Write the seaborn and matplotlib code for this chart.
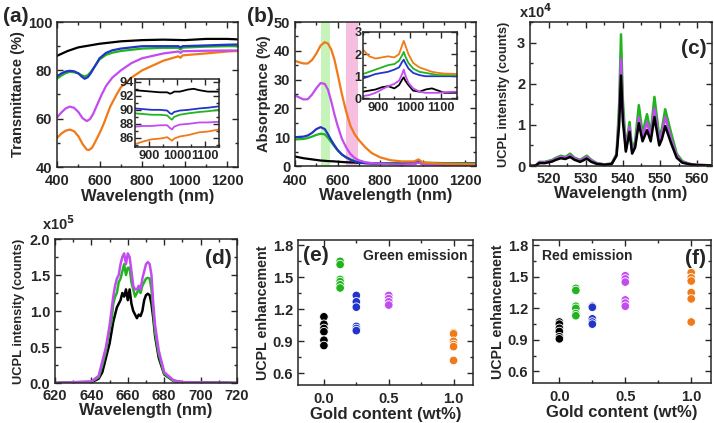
import numpy as np
import pandas as pd
import matplotlib as mpl
import matplotlib.pyplot as plt
from matplotlib.ticker import AutoMinorLocator, MultipleLocator, FormatStrFormatter
import seaborn as sns

sns.set_style("ticks")
mpl.rcParams['font.family'] = ['Liberation Sans', 'DejaVu Sans']
mpl.rcParams['font.weight'] = 'bold'
mpl.rcParams['axes.labelweight'] = 'bold'
mpl.rcParams['axes.linewidth'] = 1.1
mpl.rcParams['mathtext.default'] = 'bf'

colors = {"black": "#000000", "green": "#22b41e", "blue": "#2235c8",
          "magenta": "#c24cf0", "orange": "#f07a18"}

# ---- (a) transmittance ----
a_wl = {
    "black": [400, 450, 500, 600, 700, 800, 900, 1000, 1100, 1200, 1250],
    "blue": [400, 420, 440, 460, 480, 500, 515, 530, 545, 560, 580, 600, 630, 660, 700, 800, 900, 970, 980, 990,
             1100, 1200, 1250],
    "green": [400, 420, 440, 460, 480, 500, 515, 530, 545, 560, 580, 600, 630, 660, 700, 800, 900, 970, 980, 990,
              1100, 1200, 1250],
    "magenta": [400, 420, 440, 460, 480, 500, 520, 540, 555, 570, 590, 610, 630, 660, 700, 750, 800, 900, 970, 980,
                990, 1100, 1200, 1250],
    "orange": [400, 420, 440, 460, 480, 500, 520, 540, 550, 565, 580, 600, 620, 650, 680, 700, 750, 800, 900, 970,
               980, 990, 1100, 1200, 1250],
}
a_T = {
    "black": [86, 88, 89.5, 91, 92, 92.5, 92.7, 92.5, 93, 93, 92.8],
    "blue": [77.5, 78.7, 79.5, 79.8, 79.6, 78.8, 77.5, 76.5, 77.2, 79, 82, 85, 87.2, 88.3, 89, 90, 90, 90, 89.5,
             90, 90.3, 90.6, 90.7],
    "green": [76.5, 77.8, 78.8, 79.4, 79.2, 78.7, 78, 77.5, 78, 79.5, 82, 84.5, 86.4, 87.3, 88, 89, 89.3, 89.3,
              88.6, 89.4, 89.8, 90, 90],
    "magenta": [60.5, 62.5, 64.2, 65, 64.5, 62.8, 60.2, 59, 59.8, 62, 66, 70, 73.5, 77, 80, 83, 85, 87, 87.8,
                87.2, 87.9, 88.1, 88.2, 88.2],
    "orange": [52, 53.8, 55, 55.5, 54.8, 52.8, 49.5, 47.2, 47, 48, 50.5, 54, 58, 65, 70, 73, 77, 80, 84, 85.8,
               85.2, 86.2, 87, 87.8, 88],
}
ai_wl = [850, 880, 910, 940, 965, 975, 982, 990, 1010, 1040, 1060, 1080, 1110, 1150]
ai_T = {
    "black": [92.8, 92.7, 92.6, 92.5, 92.5, 92.3, 92.4, 92.6, 92.6, 92.9, 93.0, 92.8, 92.6, 92.6],
    "blue": [90.2, 90.1, 90.0, 90.0, 89.9, 89.5, 89.4, 89.7, 89.9, 90.0, 90.1, 90.2, 90.3, 90.5],
    "green": [89.5, 89.4, 89.3, 89.3, 89.2, 88.8, 88.6, 89.0, 89.3, 89.5, 89.6, 89.7, 89.8, 90.0],
    "magenta": [87.6, 87.7, 87.7, 87.8, 87.8, 87.4, 87.2, 87.6, 87.9, 88.0, 88.1, 88.2, 88.2, 88.3],
    "orange": [85.1, 85.5, 85.8, 85.9, 86.1, 85.8, 85.6, 85.9, 86.2, 86.4, 86.6, 86.8, 86.9, 87.2],
}

# ---- (b) absorptance ----
b_wl = [400, 420, 440, 460, 480, 500, 520, 540, 555, 570, 585, 600, 620, 640, 660, 680, 700, 730, 760, 800, 850,
        900, 960, 980, 1000, 1100, 1250]
b_A = {
    "black": [3.3, 3.0, 2.7, 2.5, 2.3, 2.1, 1.9, 1.8, 1.7, 1.65, 1.6, 1.5, 1.4, 1.3, 1.25, 1.2, 1.1, 1.0, 0.95,
              0.8, 0.7, 0.7, 0.8, 1.2, 0.8, 0.6, 0.5],
    "green": [9.2, 9.3, 9.4, 9.7, 10.2, 10.8, 11.2, 11, 9.8, 8.3, 6.8, 5.4, 4.0, 3.0, 2.3, 1.7, 1.3, 1.1, 1.0,
              1.0, 1.0, 1.0, 1.2, 1.8, 1.2, 1.0, 1.0],
    "blue": [10, 10.1, 10.2, 10.6, 11.5, 12.8, 13.5, 12.8, 11, 9, 7.2, 5.6, 4.0, 3.0, 2.2, 1.6, 1.2, 1.0, 0.9,
             0.8, 0.8, 0.8, 1.0, 1.6, 1.0, 0.8, 0.8],
    "magenta": [24.5, 23.8, 23.1, 23.2, 24.8, 27, 28.8, 28.5, 26.5, 22.5, 18, 14, 9.5, 6.5, 4.2, 2.8, 2.0, 1.3,
                1.0, 0.8, 0.6, 0.5, 0.7, 1.2, 0.6, 0.4, 0.4],
    "orange": [36.5, 36, 35.6, 35.6, 36.8, 39, 41.8, 43, 42.5, 40.5, 37, 32, 25, 19, 14, 11, 9, 6.5, 4.5, 3, 2,
               1.6, 1.6, 2.3, 1.2, 0.8, 0.6],
}
bi_wl = [850, 870, 890, 910, 930, 950, 965, 975, 980, 985, 995, 1010, 1030, 1050, 1070, 1090, 1110, 1150]
bi_A = {
    "orange": [2.2, 1.9, 1.8, 1.85, 1.9, 1.85, 2.0, 2.4, 2.6, 2.4, 2.0, 1.6, 1.4, 1.3, 1.2, 1.15, 1.12, 1.1],
    "green": [1.1, 1.2, 1.3, 1.4, 1.5, 1.55, 1.7, 1.95, 2.1, 1.9, 1.6, 1.35, 1.2, 1.15, 1.1, 1.05, 1.05, 1.05],
    "blue": [0.9, 1.0, 1.1, 1.15, 1.2, 1.3, 1.4, 1.65, 1.75, 1.6, 1.35, 1.15, 1.05, 1.0, 1.0, 1.0, 1.0, 1.0],
    "magenta": [0.1, 0.15, 0.25, 0.4, 0.55, 0.65, 0.8, 1.1, 1.3, 1.05, 0.7, 0.45, 0.3, 0.25, 0.25, 0.25, 0.28, 0.3],
    "black": [0.3, 0.35, 0.4, 0.5, 0.55, 0.45, 0.6, 0.85, 0.95, 0.8, 0.6, 0.35, 0.3, 0.4, 0.45, 0.35, 0.25, 0.25],
}

# ---- (c) green UCPL (x1e4) ----
c_wl = [515, 516.5, 517.5, 519, 521, 522, 523.3, 524.5, 525.8, 527, 528.5, 530.3, 531.5, 533, 535, 537, 538.3, 539,
        539.5, 540, 540.8, 541.8, 542.5, 543.3, 544.3, 545.3, 546.5, 547.5, 548.5, 549.8, 550.5, 551.4, 553, 554.5,
        556, 558, 560, 565]
c_I = {
    "green": [0, 0.01, 0.1, 0.1, 0.15, 0.2, 0.25, 0.22, 0.3, 0.2, 0.15, 0.25, 0.15, 0.07, 0.04, 0.06, 0.3, 1.5,
              3.2, 1.6, 0.45, 1.07, 0.4, 0.6, 1.48, 0.8, 1.26, 0.8, 1.68, 0.71, 0.9, 1.38, 0.8, 0.3,
              0.12, 0.05, 0.03, 0.01],
    "magenta": [0, 0.01, 0.09, 0.09, 0.13, 0.18, 0.22, 0.2, 0.26, 0.18, 0.13, 0.22, 0.13, 0.06, 0.04, 0.05, 0.27, 1.2,
                2.6, 1.3, 0.4, 0.95, 0.35, 0.5, 1.19, 0.7, 1.07, 0.7, 1.4, 0.6, 0.78, 1.19, 0.65, 0.25,
                0.1, 0.05, 0.03, 0.01],
    "black": [0, 0.01, 0.07, 0.07, 0.11, 0.15, 0.19, 0.17, 0.22, 0.15, 0.1, 0.18, 0.1, 0.05, 0.03, 0.05, 0.25, 1.0,
              2.2, 1.1, 0.35, 0.83, 0.3, 0.45, 1.04, 0.6, 0.87, 0.6, 1.19, 0.5, 0.65, 0.97, 0.55, 0.2,
              0.08, 0.04, 0.02, 0.01],
}

# ---- (d) red UCPL (x1e5) ----
d_wl = [620, 640, 644, 646, 648, 650, 651, 652, 653, 654, 655, 656, 657, 658, 659, 660, 661, 662, 663, 664, 665,
        666, 667, 668, 669, 670, 671, 672, 673, 674, 675, 677, 680, 685, 690, 720]
d_I = {
    "black": [0, 0.01, 0.06, 0.15, 0.35, 0.55, 0.7, 0.85, 0.95, 1.05, 1.1, 1.15, 1.25, 1.2, 1.3, 1.15, 1.3, 1.1, 1.0,
              0.95, 0.9, 0.95, 0.93, 1.0, 1.15, 1.22, 1.24, 1.22, 1.1, 0.9, 0.65, 0.35, 0.12, 0.03, 0.01, 0],
    "green": [0, 0.02, 0.08, 0.25, 0.45, 0.75, 0.85, 1.1, 1.2, 1.25, 1.4, 1.45, 1.55, 1.65, 1.5, 1.6, 1.6, 1.4, 1.3,
              1.2, 1.25, 1.3, 1.25, 1.35, 1.4, 1.45, 1.46, 1.45, 1.3, 1.0, 0.7, 0.4, 0.13, 0.03, 0.01, 0],
    "magenta": [0, 0.02, 0.1, 0.3, 0.5, 0.8, 1.0, 1.2, 1.35, 1.45, 1.5, 1.65, 1.75, 1.8, 1.65, 1.8, 1.75, 1.55, 1.35,
                1.3, 1.3, 1.35, 1.3, 1.45, 1.55, 1.65, 1.68, 1.65, 1.5, 1.1, 0.8, 0.45, 0.15, 0.04, 0.01, 0],
}

# ---- (e), (f) enhancement ----
e_gold = [0.0] * 6 + [0.125] * 6 + [0.25] * 6 + [0.5] * 4 + [1.0] * 6
e_sample = ["black"] * 6 + ["green"] * 6 + ["blue"] * 6 + ["magenta"] * 4 + ["orange"] * 6
e_enh = [1.13, 1.06, 1.02, 0.99, 0.91, 0.86,
         1.65, 1.62, 1.48, 1.46, 1.43, 1.40,
         1.33, 1.27, 1.22, 1.04, 1.02, 1.00,
         1.33, 1.30, 1.27, 1.24,
         0.98, 0.97, 0.90, 0.87, 0.85, 0.72]
f_gold = [0.0] * 6 + [0.125] * 6 + [0.25] * 5 + [0.5] * 6 + [1.0] * 6
f_sample = ["black"] * 6 + ["green"] * 6 + ["blue"] * 5 + ["magenta"] * 6 + ["orange"] * 6
f_enh = [1.07, 1.05, 1.01, 0.98, 0.93, 0.91,
         1.39, 1.37, 1.22, 1.20, 1.15, 1.13,
         1.22, 1.21, 1.10, 1.07, 1.05,
         1.51, 1.48, 1.45, 1.28, 1.25, 1.22,
         1.54, 1.49, 1.46, 1.35, 1.29, 1.07]


def style(ax, fs=10.5, xpad=5):
    ax.tick_params(which='both', direction='in', top=True, right=True, labelsize=fs, width=1.0)
    ax.tick_params(which='major', length=4)
    ax.tick_params(which='minor', length=2)
    ax.tick_params(axis='x', pad=xpad)
    ax.xaxis.set_minor_locator(AutoMinorLocator(2))
    ax.yaxis.set_minor_locator(AutoMinorLocator(2))
    for lab in ax.get_xticklabels() + ax.get_yticklabels():
        lab.set_fontweight('bold')


def lines(ax, wl, vals, order, lw=1.6):
    for name in order:
        x = wl[name] if isinstance(wl, dict) else wl
        sns.lineplot(x=x, y=vals[name], color=colors[name], lw=lw, ax=ax, estimator=None)


fig = plt.figure(figsize=(7.14, 4.23), dpi=100)
W, H = 714, 423


def add_ax(l, r, t, b):
    return fig.add_axes([l / W, 1 - b / H, (r - l) / W, (b - t) / H])


xl_fs = 12
yl_fs = 10.5

# (a)
ax = add_ax(57, 238, 22, 167)
lines(ax, a_wl, a_T, ["orange", "magenta", "green", "blue", "black"])
ax.set_xlim(400, 1250)
ax.set_ylim(40, 100)
ax.xaxis.set_major_locator(MultipleLocator(200))
ax.yaxis.set_major_locator(MultipleLocator(20))
ax.set_xlabel("Wavelength (nm)", fontsize=xl_fs, labelpad=1)
ax.set_ylabel("Transmittance (%)", fontsize=yl_fs, labelpad=2)
style(ax)
fig.text(3 / W, 1 - 22 / H, "(a)", fontsize=15, fontweight='bold')

ax = add_ax(135, 219, 79, 147)
lines(ax, ai_wl, ai_T, ["orange", "magenta", "green", "blue", "black"], lw=1.3)
ax.set_xlim(850, 1150)
ax.set_ylim(84.7, 94.4)
ax.xaxis.set_major_locator(MultipleLocator(100))
ax.yaxis.set_major_locator(MultipleLocator(2))
ax.set_xlabel("")
ax.set_ylabel("")
style(ax, fs=9.2, xpad=2)
ax.tick_params(axis='y', pad=1)

# (b)
ax = add_ax(295, 476, 22, 166)
ax.axvspan(520, 565, color="#b8f0a8", alpha=0.8, lw=0)
ax.axvspan(640, 695, color="#f5b0d8", alpha=0.8, lw=0)
lines(ax, b_wl, b_A, ["black", "green", "blue", "magenta", "orange"])
ax.set_xlim(400, 1250)
ax.set_ylim(0, 50)
ax.xaxis.set_major_locator(MultipleLocator(200))
ax.yaxis.set_major_locator(MultipleLocator(10))
ax.set_xlabel("Wavelength (nm)", fontsize=xl_fs, labelpad=0)
ax.set_ylabel("Absorptance (%)", fontsize=yl_fs, labelpad=2)
style(ax, xpad=6)
fig.text(247 / W, 1 - 22 / H, "(b)", fontsize=15, fontweight='bold')

ax = add_ax(363, 457, 32, 99)
lines(ax, bi_wl, bi_A, ["black", "magenta", "blue", "green", "orange"], lw=1.3)
ax.set_xlim(850, 1150)
ax.set_ylim(-0.03, 3)
ax.xaxis.set_major_locator(MultipleLocator(100))
ax.yaxis.set_major_locator(MultipleLocator(1))
ax.set_xlabel("")
ax.set_ylabel("")
style(ax, fs=9.2, xpad=2)
ax.tick_params(axis='y', pad=1)

# (c)
ax = add_ax(530, 712, 22, 166)
lines(ax, c_wl, c_I, ["green", "magenta", "black"], lw=1.8)
ax.set_xlim(515, 564)
ax.set_ylim(0, 3.5)
ax.xaxis.set_major_locator(MultipleLocator(10))
ax.yaxis.set_major_locator(MultipleLocator(1))
ax.set_xlabel("Wavelength (nm)", fontsize=xl_fs, labelpad=0)
ax.set_ylabel("UCPL intensity (counts)", fontsize=9.3, labelpad=5)
style(ax, xpad=4)
ax.text(-0.06, 1.03, r"x10$^{4}$", transform=ax.transAxes, fontsize=10.5, fontweight='bold')
ax.text(0.97, 0.88, "(c)", transform=ax.transAxes, fontsize=15, fontweight='bold', ha='right', va='top')

# (d)
ax = add_ax(55, 237, 239, 383)
lines(ax, d_wl, d_I, ["black", "green", "magenta"], lw=1.8)
ax.set_xlim(620, 720)
ax.set_ylim(0, 2)
ax.xaxis.set_major_locator(MultipleLocator(20))
ax.yaxis.set_major_locator(MultipleLocator(0.5))
ax.yaxis.set_major_formatter(FormatStrFormatter('%.1f'))
ax.set_xlabel("Wavelength (nm)", fontsize=xl_fs, labelpad=0)
ax.set_ylabel("UCPL intensity (counts)", fontsize=9.3, labelpad=3)
style(ax, xpad=4)
ax.text(-0.07, 1.06, r"x10$^{5}$", transform=ax.transAxes, fontsize=10.5, fontweight='bold')
ax.text(0.97, 0.93, "(d)", transform=ax.transAxes, fontsize=15, fontweight='bold', ha='right', va='top')

# (e), (f)
for l, r, t, b, gold, samp, enh, title, tag in [
        (298, 473, 240, 385, e_gold, e_sample, e_enh, "Green emission", "(e)"),
        (533, 711, 240, 383, f_gold, f_sample, f_enh, "Red emission", "(f)")]:
    ax = add_ax(l, r, t, b)
    df = pd.DataFrame({"gold": gold, "sample": samp, "enh": enh})
    sns.scatterplot(data=df, x="gold", y="enh", hue="sample", palette=colors, s=38,
                    edgecolor="white", linewidth=0.6, legend=False, ax=ax)
    ax.set_xlim(-0.2, 1.15)
    ax.set_ylim(0.49, 1.85)
    ax.xaxis.set_major_locator(MultipleLocator(0.5))
    ax.yaxis.set_major_locator(MultipleLocator(0.3))
    ax.xaxis.set_major_formatter(FormatStrFormatter('%.1f'))
    ax.yaxis.set_major_formatter(FormatStrFormatter('%.1f'))
    ax.set_xlabel("Gold content (wt%)", fontsize=xl_fs, labelpad=1)
    ax.set_ylabel("UCPL enhancement", fontsize=10.3, labelpad=2)
    style(ax)
    if tag == "(e)":
        ax.text(0.97, 0.94, title, transform=ax.transAxes, fontsize=10, fontweight='bold', ha='right', va='top')
        ax.text(0.03, 0.96, tag, transform=ax.transAxes, fontsize=15, fontweight='bold', ha='left', va='top')
    else:
        ax.text(0.05, 0.94, title, transform=ax.transAxes, fontsize=10, fontweight='bold', ha='left', va='top')
        ax.text(0.97, 0.94, tag, transform=ax.transAxes, fontsize=15, fontweight='bold', ha='right', va='top')

fig.savefig("out.png", dpi=100)
